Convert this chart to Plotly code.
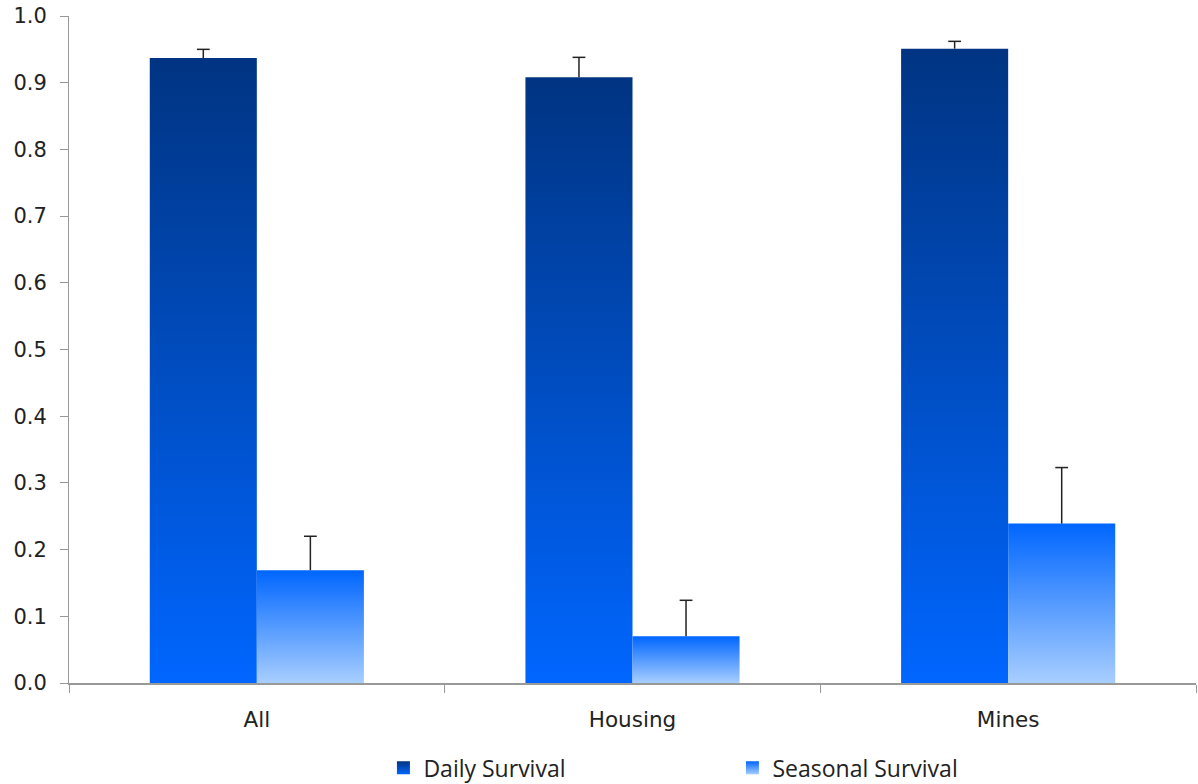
import plotly.graph_objects as go

categories = ["All", "Housing", "Mines"]
daily = [0.937, 0.908, 0.951]
daily_err = [0.013, 0.030, 0.011]
seasonal = [0.169, 0.070, 0.239]
seasonal_err = [0.051, 0.054, 0.084]

BAR_W = 0.285
CAP = 0.017
series = [
    ("Daily Survival", daily, daily_err, -BAR_W, [[0, "#0066FF"], [1, "#003482"]]),
    ("Seasonal Survival", seasonal, seasonal_err, 0.0, [[0, "#A8CEFF"], [1, "#0066FF"]]),
]

fig = go.Figure()
xs = list(range(len(categories)))
for name, vals, errs, off, cscale in series:
    for i, v in zip(xs, vals):
        x0, x1 = i + off, i + off + BAR_W
        fig.add_trace(go.Scatter(
            x=[x0, x1, x1, x0, x0], y=[0, 0, v, v, 0],
            mode="lines", line=dict(width=0), fill="toself",
            fillgradient=dict(type="vertical", colorscale=cscale, start=0, stop=v),
            showlegend=False, hoverinfo="skip"))
    # error bars (plus direction only, cap at top)
    ex, ey = [], []
    for i, v, e in zip(xs, vals, errs):
        c = i + off + BAR_W / 2
        ex += [c, c, None, c - CAP, c + CAP, None]
        ey += [v, v + e, None, v + e, v + e, None]
    fig.add_trace(go.Scatter(
        x=ex, y=ey, mode="lines", line=dict(color="#222222", width=1.5),
        showlegend=False, hoverinfo="skip"))
    # legend entry
    fig.add_trace(go.Scatter(
        x=[None], y=[None], mode="markers", name=name,
        marker=dict(symbol="square", size=13, color=cscale[1][1],
                    gradient=dict(type="vertical", color=cscale[0][1]))))

fig.update_layout(
    width=1198, height=784,
    margin=dict(l=69, r=2, t=16, b=101, autoexpand=False),
    paper_bgcolor="white", plot_bgcolor="white",
    font=dict(family="DejaVu Sans", size=21, color="#222222"),
    legend=dict(orientation="h", x=0.279, xanchor="left", y=-0.095, yanchor="top",
                entrywidth=304, entrywidthmode="pixels",
                font=dict(family="Open Sans", size=23, color="#222222"),
                itemwidth=30),
    xaxis=dict(range=[-0.5, 2.5], tickvals=xs, ticktext=categories,
               ticks="", showgrid=False, zeroline=False, automargin=False,
               showline=True, linecolor="#999999", linewidth=2,
               tickfont=dict(family="DejaVu Sans", size=21.5),
               ticklabelstandoff=16, ticklabeloverflow="allow",
               minor=dict(tickvals=[-0.5, 0.5, 1.5, 2.5], ticks="outside",
                          ticklen=8, tickcolor="#999999", tickwidth=1)),
    yaxis=dict(range=[0, 1.0], dtick=0.1, tickformat=".1f", automargin=False,
               showgrid=False, zeroline=False, showline=True,
               linecolor="#999999", linewidth=1,
               ticks="outside", ticklen=8, tickcolor="#999999",
               ticklabelstandoff=9, ticklabeloverflow="allow",
               tickfont=dict(family="DejaVu Sans", size=21)),
)

fig.write_html("out.html", config={"displayModeBar": False},
               post_script="document.body.style.margin='0px';")
